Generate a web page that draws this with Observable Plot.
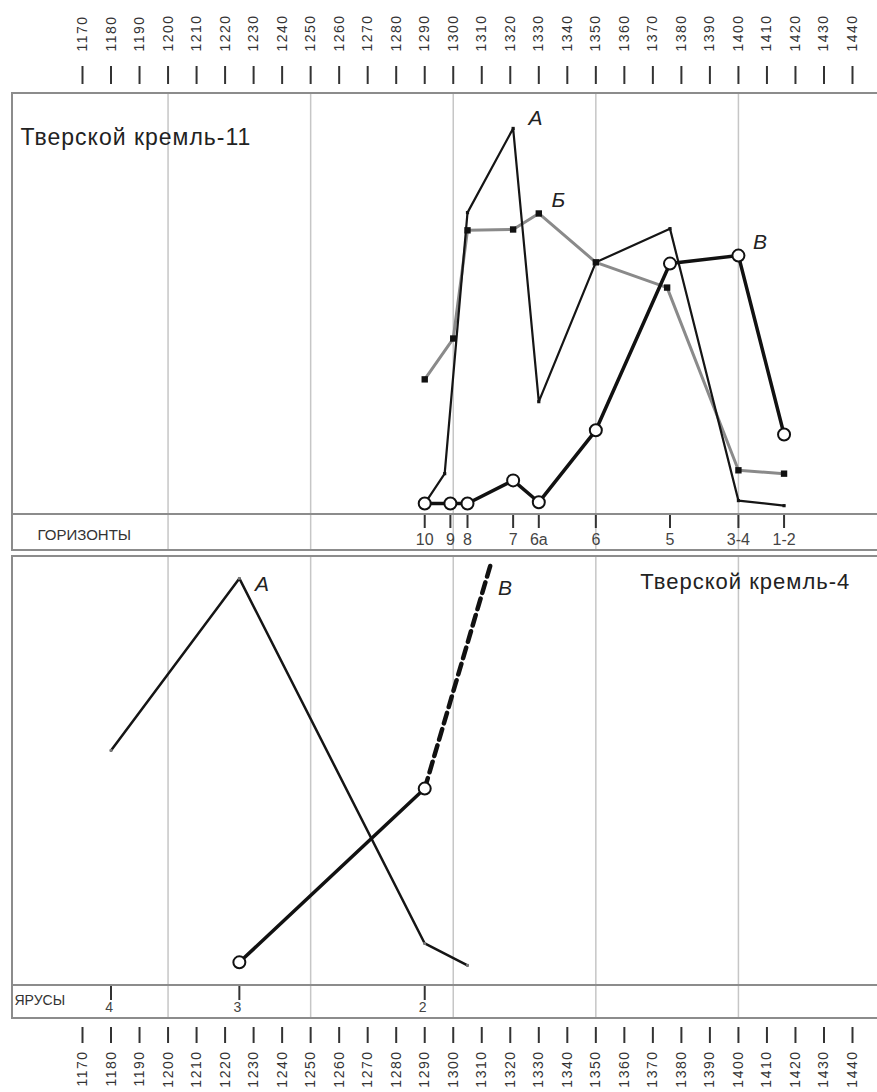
<!DOCTYPE html>
<html lang="ru">
<head>
<meta charset="utf-8">
<script src="https://cdn.jsdelivr.net/npm/d3@7"></script>
<script src="https://cdn.jsdelivr.net/npm/@observablehq/plot@0.6"></script>
<style>
html,body{margin:0;padding:0;background:#fff;}
#chart{position:relative;width:877px;height:1092px;overflow:hidden;background:#fff;}
#chart svg{position:absolute;left:0;overflow:visible;}
.frame{position:absolute;left:11px;width:880px;border:2px solid #8c8c8c;border-right:none;box-sizing:border-box;}
.sep{position:absolute;left:11px;width:880px;height:0;border-top:2px solid #8c8c8c;}
</style>
</head>
<body>
<div id="chart"></div>
<script>
// ---------- data ----------
const yearTicks = [1170,1180,1190,1200,1210,1220,1230,1240,1250,1260,1270,1280,1290,1300,1310,1320,1330,1340,1350,1360,1370,1380,1390,1400,1410,1420,1430,1440];
const gridYears = [1200,1250,1300,1350,1400];

// Тверской кремль-11: horizons
const horizonLabels = ["10","9","8","7","6а","6","5","3-4","1-2"];
const horizonYears  = [1290,1299,1305,1321,1330,1350,1376,1400,1416];

// series А (thin black)
const k11YearsA  = [1290,1297,1305,1321,1330,1350,1376,1400,1416];
const k11ValuesA = [2.6,9.7,71.7,91.7,26.8,59.9,67.9,3.3,2.1];
// series Б (grey, square markers)
const k11YearsB  = [1290,1300,1305,1321,1330,1350,1375,1400,1416];
const k11ValuesB = [32.1,41.8,67.5,67.7,71.5,59.9,53.9,10.5,9.7];
// series В (thick, open circles)
const k11YearsV  = [1290,1299,1305,1321,1330,1350,1376,1400,1416];
const k11ValuesV = [2.6,2.6,2.6,8.1,2.9,20.0,59.6,61.5,19.0];

// Тверской кремль-4: tiers
const yarusLabels = ["4","3","2"];
const yarusYears  = [1180,1225,1290];
const k4YearsA  = [1180,1225,1290,1305];
const k4ValuesA = [54.8,94.9,9.8,4.7];
const k4YearsV  = [1225,1290];
const k4ValuesV = [5.4,45.9];
const k4YearsVdash  = [1290,1313];
const k4ValuesVdash = [45.9,97.9];

// ---------- helpers ----------
const rows = (ys, vs) => ys.map((year, i) => ({year, value: vs[i]}));
const A11 = rows(k11YearsA, k11ValuesA);
const B11 = rows(k11YearsB, k11ValuesB);
const V11 = rows(k11YearsV, k11ValuesV);
const horizons = horizonYears.map((year, i) => ({year, label: horizonLabels[i]}));
const A4 = rows(k4YearsA, k4ValuesA);
const V4 = rows(k4YearsV, k4ValuesV);
const V4d = rows(k4YearsVdash, k4ValuesVdash);
const yarus = yarusYears.map((year, i) => ({year, label: yarusLabels[i]}));

const FONT = "'Liberation Sans', Arial, Helvetica, sans-serif";
const W = 877;
const X = {domain: [1170, 1440], range: [82, 852], axis: null};
const GRID = "#c6c6c6";
const chart = document.getElementById("chart");

function place(el, top) {
  el.style.top = top + "px";
  chart.appendChild(el);
}
function box(cls, top, height) {
  const d = document.createElement("div");
  d.className = cls;
  d.style.top = top + "px";
  if (height != null) d.style.height = height + "px";
  chart.appendChild(d);
}

// ---------- top axis ----------
place(Plot.plot({
  width: W, height: 93, marginTop: 83, marginBottom: 0,
  x: X,
  style: {fontFamily: FONT, background: "transparent", letterSpacing: "1.5px", color: "#333"},
  marks: [
    Plot.axisX({ticks: yearTicks, anchor: "top", tickSize: 18, tickPadding: 14, tickRotate: -90,
      tickFormat: d => String(d), fontSize: 14, strokeWidth: 2, color: "#333"})
  ]
}), 0);

// ---------- panel: Тверской кремль-11 ----------
place(Plot.plot({
  width: W, height: 421, margin: 0,
  x: X,
  y: {domain: [0, 100], axis: null},
  style: {fontFamily: FONT, background: "transparent", letterSpacing: "1px"},
  marks: [
    Plot.ruleX(gridYears, {stroke: GRID, strokeWidth: 1.5}),
    Plot.line(B11, {x: "year", y: "value", stroke: "#8a8a8a", strokeWidth: 3}),
    Plot.line(A11, {x: "year", y: "value", stroke: "#151515", strokeWidth: 2.2}),
    Plot.line(V11, {x: "year", y: "value", stroke: "#111", strokeWidth: 3.5}),
    Plot.dot(A11, {x: "year", y: "value", symbol: "square", r: 1.8, fill: "#151515"}),
    Plot.dot(B11, {x: "year", y: "value", symbol: "square", r: 3.6, fill: "#111"}),
    Plot.dot(V11, {x: "year", y: "value", r: 6, fill: "white", stroke: "#111", strokeWidth: 2}),
    Plot.text(["Тверской кремль-11"], {frameAnchor: "top-left", dx: 20, dy: 44, textAnchor: "start",
      lineAnchor: "middle", fontSize: 23, fill: "#222"}),
    Plot.text(["А"], {x: 1329, y: 94, fontSize: 21, fontStyle: "italic", fill: "#222", lineAnchor: "middle"}),
    Plot.text(["Б"], {x: 1337, y: 74.6, fontSize: 21, fontStyle: "italic", fill: "#222", lineAnchor: "middle"}),
    Plot.text(["В"], {x: 1407.7, y: 64.6, fontSize: 21, fontStyle: "italic", fill: "#222", lineAnchor: "middle"})
  ]
}), 93);

// ---------- strip: ГОРИЗОНТЫ ----------
place(Plot.plot({
  width: W, height: 36, margin: 0,
  x: X,
  style: {fontFamily: FONT, background: "transparent"},
  marks: [
    Plot.ruleX(gridYears, {stroke: GRID, strokeWidth: 1.5}),
    Plot.ruleX(horizons, {x: "year", insetBottom: 22, stroke: "#333", strokeWidth: 2}),
    Plot.text(horizons, {x: "year", text: "label", frameAnchor: "middle", dy: 7, fontSize: 16, fill: "#444"}),
    Plot.text(["ГОРИЗОНТЫ"], {frameAnchor: "left", dx: 37, dy: 3, textAnchor: "start", fontSize: 15,
      fill: "#333", style: "letter-spacing:1.5px"})
  ]
}), 514);

// ---------- panel: Тверской кремль-4 ----------
place(Plot.plot({
  width: W, height: 429, margin: 0,
  x: X,
  y: {domain: [0, 100], axis: null},
  style: {fontFamily: FONT, background: "transparent", letterSpacing: "1px"},
  marks: [
    Plot.ruleX(gridYears, {stroke: GRID, strokeWidth: 1.5}),
    Plot.line(A4, {x: "year", y: "value", stroke: "#151515", strokeWidth: 2.5}),
    Plot.line(V4d, {x: "year", y: "value", stroke: "#111", strokeWidth: 4.5, strokeDasharray: "11,6"}),
    Plot.line(V4, {x: "year", y: "value", stroke: "#111", strokeWidth: 3.5}),
    Plot.dot(A4, {x: "year", y: "value", symbol: "square", r: 1.6, fill: "#777"}),
    Plot.dot(V4, {x: "year", y: "value", r: 6, fill: "white", stroke: "#111", strokeWidth: 2}),
    Plot.text(["А"], {x: 1233.1, y: 93.5, fontSize: 21, fontStyle: "italic", fill: "#222", lineAnchor: "middle"}),
    Plot.text(["В"], {x: 1318.3, y: 92.5, fontSize: 21, fontStyle: "italic", fill: "#222", lineAnchor: "middle"}),
    Plot.text(["Тверской кремль-4"], {x: 1365.6, y: 94, textAnchor: "start", lineAnchor: "middle",
      fontSize: 22, fill: "#222"})
  ]
}), 556);

// ---------- strip: ЯРУСЫ ----------
place(Plot.plot({
  width: W, height: 33, margin: 0,
  x: X,
  style: {fontFamily: FONT, background: "transparent"},
  marks: [
    Plot.ruleX(gridYears, {stroke: GRID, strokeWidth: 1.5}),
    Plot.ruleX(yarus, {x: "year", insetBottom: 18, stroke: "#333", strokeWidth: 2}),
    Plot.text(yarus, {x: "year", text: "label", frameAnchor: "middle", dy: 6, dx: -2, fontSize: 14, fill: "#444"}),
    Plot.text(["ЯРУСЫ"], {frameAnchor: "left", dx: 14, dy: -1, textAnchor: "start", fontSize: 14,
      fill: "#333"})
  ]
}), 985);

// ---------- bottom axis ----------
place(Plot.plot({
  width: W, height: 74, marginTop: 0, marginBottom: 65,
  x: X,
  style: {fontFamily: FONT, background: "transparent", letterSpacing: "1.5px", color: "#333"},
  marks: [
    Plot.axisX({ticks: yearTicks, anchor: "bottom", tickSize: 16, tickPadding: 7, tickRotate: -90,
      tickFormat: d => String(d), fontSize: 14, strokeWidth: 2, color: "#333"})
  ]
}), 1018);

// ---------- panel frames ----------
box("frame", 92, 459);
box("sep", 513);
box("frame", 555, 464);
box("sep", 984);
</script>
</body>
</html>
